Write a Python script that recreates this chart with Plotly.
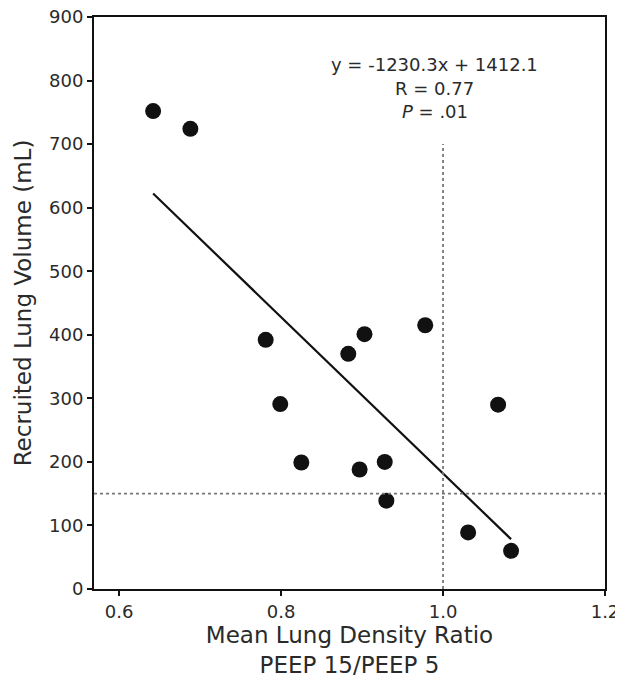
import plotly.graph_objects as go

density_ratio = [0.642, 0.688, 0.781, 0.799, 0.825, 0.883, 0.903, 0.897, 0.928, 0.930, 0.978, 1.068, 1.031, 1.084]
recruited_volume = [752, 724, 392, 291, 199, 370, 401, 188, 200, 139, 415, 290, 89, 60]
slope = -1230.3
intercept = 1412.1
x_ticks = [0.6, 0.8, 1.0, 1.2]
x_tick_labels = ["0.6", "0.8", "1.0", "1.2"]
y_ticks = [0, 100, 200, 300, 400, 500, 600, 700, 800, 900]
threshold_x = 1.0
threshold_y = 150
stats_lines = ["y = -1230.3x + 1412.1", "R = 0.77", "<i>P</i> = .01"]

X_RANGE = [0.569, 1.2]
Y_RANGE = [0, 900]

line_x = [min(density_ratio), max(density_ratio)]
line_y = [slope * v + intercept for v in line_x]

FONT = "DejaVu Sans, Liberation Sans, Arial, sans-serif"
TXT = "#2a2a2a"

fig = go.Figure()
fig.add_trace(go.Scatter(x=line_x, y=line_y, mode="lines",
                         line=dict(color="#111111", width=2.2), showlegend=False))
fig.add_trace(go.Scatter(x=density_ratio, y=recruited_volume, mode="markers",
                         marker=dict(color="#111111", size=16), showlegend=False))

fig.add_shape(type="line", x0=threshold_x, x1=threshold_x, y0=0, y1=700,
              line=dict(color="#777777", width=1.8, dash="dot"))
fig.add_shape(type="line", x0=X_RANGE[0], x1=X_RANGE[1], y0=threshold_y, y1=threshold_y,
              line=dict(color="#777777", width=1.8, dash="dot"))

# page offset of 8px (body margin) is accounted for in the sizes below
plot_top, plot_bottom = 9, 581
def ypaper(px):
    return (plot_bottom - px) / (plot_bottom - plot_top)

for txt, ypx in zip(stats_lines, [56, 80, 104]):
    fig.add_annotation(x=0.990, y=ypaper(ypx), xref="x", yref="paper", text=txt,
                       showarrow=False, yanchor="middle", xanchor="center",
                       font=dict(family=FONT, size=18, color=TXT))

axis_common = dict(showline=True, linecolor="#111111", linewidth=2, mirror=True,
                   ticks="outside", ticklen=5, tickwidth=1.5, tickcolor="#111111",
                   showgrid=False, zeroline=False, automargin=False,
                   ticklabeloverflow="allow",
                   tickfont=dict(family=FONT, size=18, color=TXT))

fig.update_xaxes(range=X_RANGE, tickvals=x_ticks, ticktext=x_tick_labels,
                 title=dict(text="Mean Lung Density Ratio<br>PEEP 15/PEEP 5",
                            font=dict(family=FONT, size=23, color=TXT), standoff=6),
                 **axis_common)
fig.update_yaxes(range=Y_RANGE, tickvals=y_ticks,
                 title=dict(text="Recruited Lung Volume (mL)",
                            font=dict(family=FONT, size=23, color=TXT), standoff=11),
                 **axis_common)

fig.update_layout(width=615, height=671, plot_bgcolor="white", paper_bgcolor="white",
                  margin=dict(l=86, r=18, t=9, b=90))
fig.write_html("out.html",
               post_script="document.documentElement.style.overflow='hidden';"
                           "document.body.style.overflow='hidden';")
